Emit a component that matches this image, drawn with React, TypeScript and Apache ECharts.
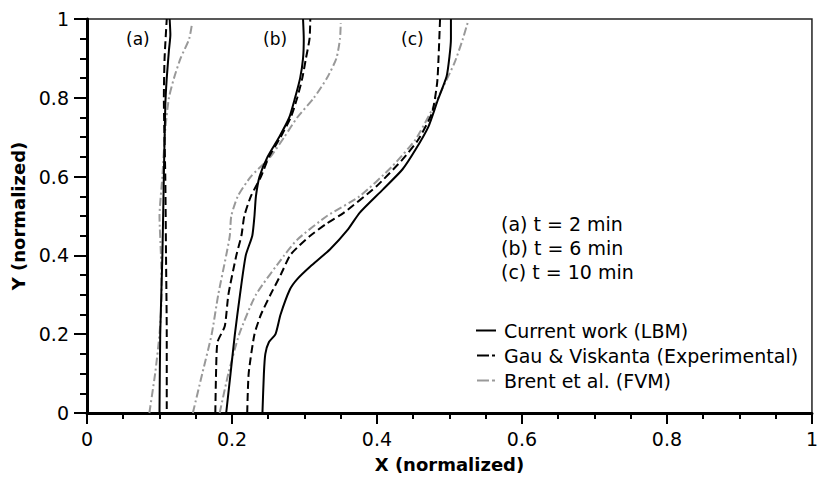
import React, { useEffect, useRef } from "react";
import * as echarts from "echarts";

const xTicks = [0, 0.2, 0.4, 0.6, 0.8, 1];
const yTicks = [0, 0.2, 0.4, 0.6, 0.8, 1];

const lbmA = [[0.100,0],[0.101,0.2],[0.104,0.4],[0.106,0.6],[0.108,0.78],[0.110,0.85],[0.113,0.92],[0.115,0.96],[0.114,1]];
const gauA = [[0.110,0.01],[0.110,0.2],[0.109,0.4],[0.108,0.6],[0.106,0.8],[0.107,0.9],[0.110,1]];
const brentA = [[0.086,0],[0.094,0.1],[0.100,0.2],[0.103,0.3],[0.102,0.4],[0.100,0.5],[0.104,0.6],[0.108,0.72],[0.113,0.8],[0.12,0.85],[0.129,0.9],[0.141,0.95],[0.145,0.99]];

const lbmB = [[0.192,0],[0.198,0.1],[0.204,0.2],[0.211,0.3],[0.219,0.4],[0.228,0.45],[0.231,0.5],[0.233,0.55],[0.238,0.6],[0.249,0.65],[0.265,0.7],[0.279,0.75],[0.287,0.8],[0.294,0.85],[0.298,0.9],[0.299,0.95],[0.298,1]];
const gauB = [[0.177,0],[0.178,0.1],[0.18,0.18],[0.19,0.22],[0.195,0.3],[0.206,0.4],[0.213,0.45],[0.217,0.5],[0.226,0.55],[0.24,0.6],[0.251,0.65],[0.267,0.7],[0.281,0.75],[0.29,0.8],[0.297,0.85],[0.302,0.9],[0.307,0.95],[0.308,1]];
const brentB = [[0.146,0],[0.159,0.1],[0.172,0.2],[0.181,0.3],[0.192,0.4],[0.197,0.45],[0.199,0.5],[0.208,0.55],[0.226,0.6],[0.253,0.65],[0.272,0.7],[0.29,0.75],[0.313,0.8],[0.331,0.85],[0.344,0.9],[0.349,0.95],[0.35,0.99]];

const lbmC = [[0.242,0],[0.244,0.1],[0.246,0.15],[0.251,0.18],[0.26,0.2],[0.267,0.25],[0.28,0.314],[0.29,0.34],[0.308,0.372],[0.335,0.415],[0.36,0.466],[0.376,0.508],[0.408,0.567],[0.435,0.618],[0.453,0.668],[0.471,0.727],[0.484,0.795],[0.496,0.854],[0.5,0.905],[0.502,0.95],[0.502,1]];
const gauC = [[0.221,0],[0.223,0.1],[0.231,0.2],[0.24,0.25],[0.253,0.3],[0.267,0.35],[0.28,0.4],[0.29,0.42],[0.308,0.45],[0.33,0.48],[0.354,0.508],[0.399,0.575],[0.435,0.643],[0.457,0.694],[0.476,0.762],[0.483,0.838],[0.485,0.905],[0.487,1]];
const brentC = [[0.183,0],[0.195,0.1],[0.21,0.2],[0.233,0.3],[0.272,0.4],[0.29,0.44],[0.331,0.5],[0.376,0.55],[0.421,0.626],[0.453,0.694],[0.476,0.77],[0.494,0.838],[0.507,0.889],[0.518,0.947],[0.525,0.99]];

const seriesNames = ["Current work (LBM)", "Gau & Viskanta (Experimental)", "Brent et al. (FVM)"];
const caseLabels = ["(a)", "(b)", "(c)"];
const timeLabels = ["(a) t = 2 min", "(b) t = 6 min", "(c) t = 10 min"];

const FONT = "DejaVu Sans";

const legendIcons = [
  "path://M0,0H20V2H0Z",
  "path://M0,0H12V2H0Z M15,0H18V2H15Z",
  "path://M0,0H12V2H0Z M15,0H18V2H15Z",
];

export default function App() {
  const ref = useRef<HTMLDivElement>(null);
  useEffect(() => {
    document.body.style.margin = "0";
    const chart = echarts.init(ref.current!, null, { renderer: "svg" });
    const styles = [
      { color: "#000", type: "solid" as any, width: 2 },
      { color: "#000", type: [8, 4] as any, width: 2 },
      { color: "#999", type: [8, 3, 2, 3] as any, width: 2 },
    ];
    const groups = [
      [lbmA, lbmB, lbmC],
      [gauA, gauB, gauC],
      [brentA, brentB, brentC],
    ];
    const series: any[] = [];
    groups.forEach((g, i) => {
      g.forEach((d) => {
        series.push({
          type: "line",
          name: seriesNames[i],
          data: d,
          symbol: "none",
          smooth: 0.2,
          lineStyle: styles[i],
          itemStyle: { color: styles[i].color },
          z: 3 - i,
        });
      });
    });
    const axisLabel = { color: "#000", fontSize: 19, fontFamily: FONT };
    chart.setOption({
      animation: false,
      grid: {
        left: 87, top: 19, width: 735, height: 395, containLabel: false,
        show: true, borderColor: "#222", borderWidth: 1.5, backgroundColor: "transparent",
      },
      legend: {
        data: seriesNames.map((n, i) => ({ name: n, icon: legendIcons[i] })),
        orient: "vertical",
        left: 471,
        top: 316,
        itemWidth: 20,
        itemHeight: 2,
        itemGap: 6,
        textStyle: { color: "#000", fontSize: 19, fontFamily: FONT, padding: [0, 0, 0, 3] },
      },
      xAxis: {
        type: "value",
        min: 0,
        max: 1,
        interval: 0.2,
        name: "X (normalized)",
        nameLocation: "middle",
        nameGap: 42,
        nameTextStyle: { color: "#000", fontSize: 18, fontWeight: "bold", fontFamily: FONT },
        axisLine: { show: true, onZero: false, lineStyle: { color: "#000", width: 3 } },
        axisTick: { show: true, inside: false, length: 11, lineStyle: { color: "#000", width: 2 } },
        minorTick: { show: true, splitNumber: 4, length: 6, lineStyle: { color: "#000", width: 2 } },
        splitLine: { show: false },
        axisLabel: { ...axisLabel, margin: 16, formatter: (v: number) => (xTicks.includes(v) ? String(v) : "") },
      },
      yAxis: {
        type: "value",
        min: 0,
        max: 1,
        interval: 0.2,
        name: "Y (normalized)",
        nameLocation: "middle",
        nameGap: 53,
        nameTextStyle: { color: "#000", fontSize: 18, fontWeight: "bold", fontFamily: FONT },
        axisLine: { show: true, onZero: false, lineStyle: { color: "#000", width: 3 } },
        axisTick: { show: true, inside: false, length: 13, lineStyle: { color: "#000", width: 2 } },
        minorTick: { show: true, splitNumber: 4, length: 7, lineStyle: { color: "#000", width: 2 } },
        splitLine: { show: false },
        axisLabel: { ...axisLabel, margin: 18, formatter: (v: number) => (yTicks.includes(v) ? String(v) : "") },
      },
      graphic: [
        ...caseLabels.map((t, i) => ({
          type: "text",
          left: [126, 263, 401][i],
          top: 30,
          style: { text: t, fill: "#000", fontSize: 17, fontFamily: FONT },
        })),
        ...timeLabels.map((t, i) => ({
          type: "text",
          left: 501,
          top: 214 + i * 24,
          style: { text: t, fill: "#000", fontSize: 19, fontFamily: FONT },
        })),
      ],
      series,
    });
    return () => chart.dispose();
  }, []);
  return <div ref={ref} style={{ position: "absolute", left: 0, top: 0, width: 821, height: 478 }} />;
}
